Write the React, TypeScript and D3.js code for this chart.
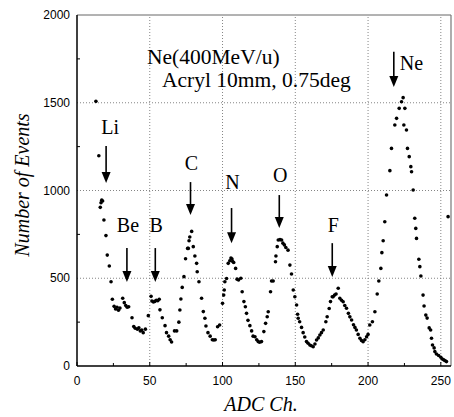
import React from "react";
import * as d3 from "d3";

const W = 454;
const H = 417;

// ADC channel / number of events
const adcCh: number[] = [
  13, 15, 16, 16.5, 17, 17.6, 18.5, 19.9, 20.8, 22.2, 23.4, 24.3, 25.5, 26.5, 27.5, 28.5, 29.5,
  31.4, 32.5, 33.5, 34.5, 35.5, 37.8, 39, 40, 41.5, 42.5, 43.5, 44.5, 45.5, 47, 49, 50.9, 51.5,
  52.5, 53.5, 54.5, 55.5, 56.5, 57, 58.6, 60.5, 61.5, 63, 64, 65, 67, 68.5, 70, 70.7, 71.4, 72.3,
  73.5, 74.6, 76, 76.5, 77, 77.5, 78.8, 79.9, 81, 82.2, 82.6, 83.8, 85.6, 86.8, 87.9, 88.6, 90,
  91.5, 93, 94, 95, 96.6, 98, 100, 100.8, 101.2, 101.6, 102.8, 103.9, 105, 105.8, 106.5, 107,
  107.7, 109, 110, 111, 112.6, 113.5, 114.7, 115.7, 116.5, 117.5, 118.8, 120, 121, 122.3, 123.5,
  124.5, 125.5, 126.8, 128.4, 129.6, 130.7, 131.4, 133, 133.7, 134.8, 136.4, 136.7, 137.6, 138.3,
  139.5, 140.6, 141.5, 142.5, 143.5, 145, 146.3, 147.4, 148.6, 149.7, 150.9, 151.6, 152, 153,
  154.3, 155.4, 156.5, 157.7, 158.8, 160, 161, 162.3, 163.5, 164.6, 165.8, 166.9, 168, 169.2, 171,
  171.9, 173.3, 174.2, 175.4, 176, 177, 178, 179.5, 180.6, 181.8, 182.9, 184, 185.2, 186.5, 187.5,
  188.7, 190, 191, 192, 193.2, 194.4, 195.5, 196.6, 197.8, 199, 200, 201.2, 203, 204.7, 206.3,
  207.4, 208.8, 209.5, 210.4, 211.5, 212.7, 215, 216.1, 218.4, 219.6, 221.4, 223, 224.1, 224.6,
  225.3, 226.4, 227.1, 228.3, 229.4, 229.9, 231, 232.1, 232.8, 233.3, 234.9, 235.6, 236.3, 237.8,
  238.5, 239.7, 240.6, 242, 243, 243.6, 244.3, 245.4, 245.9, 247, 248.5, 250, 251, 252, 253, 253.9,
  255,
];
const events: number[] = [
  1508, 1198, 904, 930, 945, 940, 832, 743, 632, 570, 480, 380, 340, 325, 335, 318, 330,
  386, 361, 345, 335, 338, 275, 225, 215, 210, 218, 200, 205, 190, 210, 287, 397, 370,
  365, 368, 375, 372, 380, 320, 275, 230, 190, 170, 150, 137, 200, 200, 250, 319, 382, 448,
  509, 611, 670, 670, 714, 735, 767, 680, 627, 585, 537, 480, 386, 310, 272, 228, 190,
  170, 150, 148, 150, 224, 234, 357, 404, 433, 480, 499, 585, 600, 615, 610, 595,
  590, 556, 495, 490, 500, 423, 367, 338, 300, 260, 230, 200, 170, 167, 150,
  139, 135, 139, 196, 243, 281, 309, 423, 484, 484, 594, 627, 680, 718,
  720, 718, 700, 690, 675, 660, 575, 524, 433, 395, 348, 295, 272, 252,
  220, 190, 165, 139, 130, 120, 115, 110, 125, 148, 160, 177, 190, 205, 252,
  281, 328, 367, 395, 395, 404, 410, 443, 386, 375, 366, 345, 329, 300, 280,
  262, 235, 220, 205, 180, 158, 145, 138, 150, 167, 180, 234, 252, 309, 410,
  484, 556, 646, 714, 822, 974, 1113, 1240, 1373, 1411, 1468, 1506, 1529, 1373,
  1468, 1345, 1240, 1193, 1136, 1107, 1003, 842, 784, 727, 608, 566, 513, 404,
  342, 290, 273, 217, 205, 158, 120, 103, 82, 68, 60, 50, 40, 35, 30, 25,
  851,
];

const xTicks: number[] = [0, 50, 100, 150, 200, 250];
const yTicks: number[] = [0, 500, 1000, 1500, 2000];
const xMinor: number[] = [25, 75, 125, 175, 225];
const yMinor: number[] = [250, 750, 1250, 1750];

// peak annotations
const peakNames: string[] = ["Li", "Be", "B", "C", "N", "O", "F"];
const peakCh: number[] = [20, 34.3, 53.8, 78, 106.2, 139, 175.4];
const arrowTop: number[] = [1254, 672, 672, 1048, 900, 974, 700];
const arrowTip: number[] = [1043, 479, 479, 860, 700, 786, 507];
const labelY: number[] = [1328, 769, 769, 1123, 1014, 1054, 769];

const neCh = 217.7;
const neTop = 1790;
const neTip = 1590;

const x = d3.scaleLinear().domain([0, 257]).range([77, 451]);
const y = d3.scaleLinear().domain([0, 2000]).range([366, 15]);

const serif = "'Liberation Serif', 'DejaVu Serif', serif";
const sans = "'Liberation Sans', Arial, sans-serif";

function Arrow({ cx, top, tip }: { cx: number; top: number; tip: number }) {
  const x0 = x(cx);
  const y0 = y(top);
  const y1 = y(tip);
  const hl = 11;
  const hw = 4.5;
  return (
    <g>
      <line x1={x0} x2={x0} y1={y0} y2={y1 - hl + 1} stroke="#000" strokeWidth={1.6} />
      <path d={`M${x0 - hw},${y1 - hl} L${x0 + hw},${y1 - hl} L${x0},${y1} Z`} fill="#000" />
    </g>
  );
}

export default function App() {
  const [x0, x1] = x.range();
  const [yb, yt] = y.range();
  return (
    <svg width={W} height={H} style={{ position: "absolute", left: 0, top: 0, background: "#fff" }}>
      <rect width={W} height={H} fill="#fff" />
      {/* grid */}
      {xTicks.filter((t) => t > 0).map((t) => (
        <line key={"gx" + t} x1={x(t)} x2={x(t)} y1={yb} y2={yt} stroke="#777" strokeWidth={0.9} strokeDasharray="1,2" />
      ))}
      {yTicks.filter((t) => t > 0 && t < 2000).map((t) => (
        <line key={"gy" + t} x1={x0} x2={x1} y1={y(t)} y2={y(t)} stroke="#777" strokeWidth={0.9} strokeDasharray="1,2" />
      ))}
      {/* frame */}
      <line x1={x0} x2={x1} y1={yt} y2={yt} stroke="#666" strokeWidth={1} />
      <line x1={x1} x2={x1} y1={yt} y2={yb} stroke="#777" strokeWidth={1.2} />
      <line x1={x0} x2={x1} y1={yb} y2={yb} stroke="#000" strokeWidth={1.5} />
      <line x1={x0} x2={x0} y1={yt} y2={yb} stroke="#000" strokeWidth={1.5} />
      {/* minor ticks */}
      {xMinor.map((t) => (
        <line key={"mx" + t} x1={x(t)} x2={x(t)} y1={yb} y2={yb - 3} stroke="#000" strokeWidth={1} />
      ))}
      {yMinor.map((t) => (
        <line key={"my" + t} x1={x0} x2={x0 + 3} y1={y(t)} y2={y(t)} stroke="#000" strokeWidth={1} />
      ))}
      {xTicks.map((t) => (
        <line key={"tx" + t} x1={x(t)} x2={x(t)} y1={yb} y2={yb - 4} stroke="#000" strokeWidth={1} />
      ))}
      {/* tick labels */}
      {xTicks.map((t) => (
        <text key={"lx" + t} x={x(t)} y={385} textAnchor="middle" fontFamily={sans} fontSize={12} fill="#000">
          {t}
        </text>
      ))}
      {yTicks.map((t) => (
        <text key={"ly" + t} x={70} y={y(t) + 4} textAnchor="end" fontFamily={sans} fontSize={12} fill="#000">
          {t}
        </text>
      ))}
      {/* axis titles */}
      <text x={261} y={411} textAnchor="middle" fontFamily={serif} fontStyle="italic" fontSize={20} fill="#000">
        ADC Ch.
      </text>
      <text transform={`translate(29,185) rotate(-90)`} textAnchor="middle" fontFamily={serif} fontStyle="italic" fontSize={20} fill="#000">
        Number of Events
      </text>
      {/* title */}
      <text x={147} y={64} fontFamily={serif} fontSize={21.5} fill="#000">Ne(400MeV/u)</text>
      <text x={162} y={87} fontFamily={serif} fontSize={21.5} fill="#000">Acryl 10mm, 0.75deg</text>
      {/* data */}
      {adcCh.map((c, i) => (
        <circle key={"p" + i} cx={x(c)} cy={y(events[i])} r={1.8} fill="#000" />
      ))}
      {/* annotations */}
      {peakNames.map((n, i) => (
        <g key={"a" + n}>
          <Arrow cx={peakCh[i]} top={arrowTop[i]} tip={arrowTip[i]} />
          <text x={x(peakCh[i]) + (n === "Li" ? 4 : 1)} y={y(labelY[i]) + 1} textAnchor="middle" fontFamily={serif} fontSize={20} fill="#000">
            {n}
          </text>
        </g>
      ))}
      <Arrow cx={neCh} top={neTop} tip={neTip} />
      <text x={x(neCh) + 6} y={y(1692) + 1} fontFamily={serif} fontSize={20} fill="#000">Ne</text>
    </svg>
  );
}
